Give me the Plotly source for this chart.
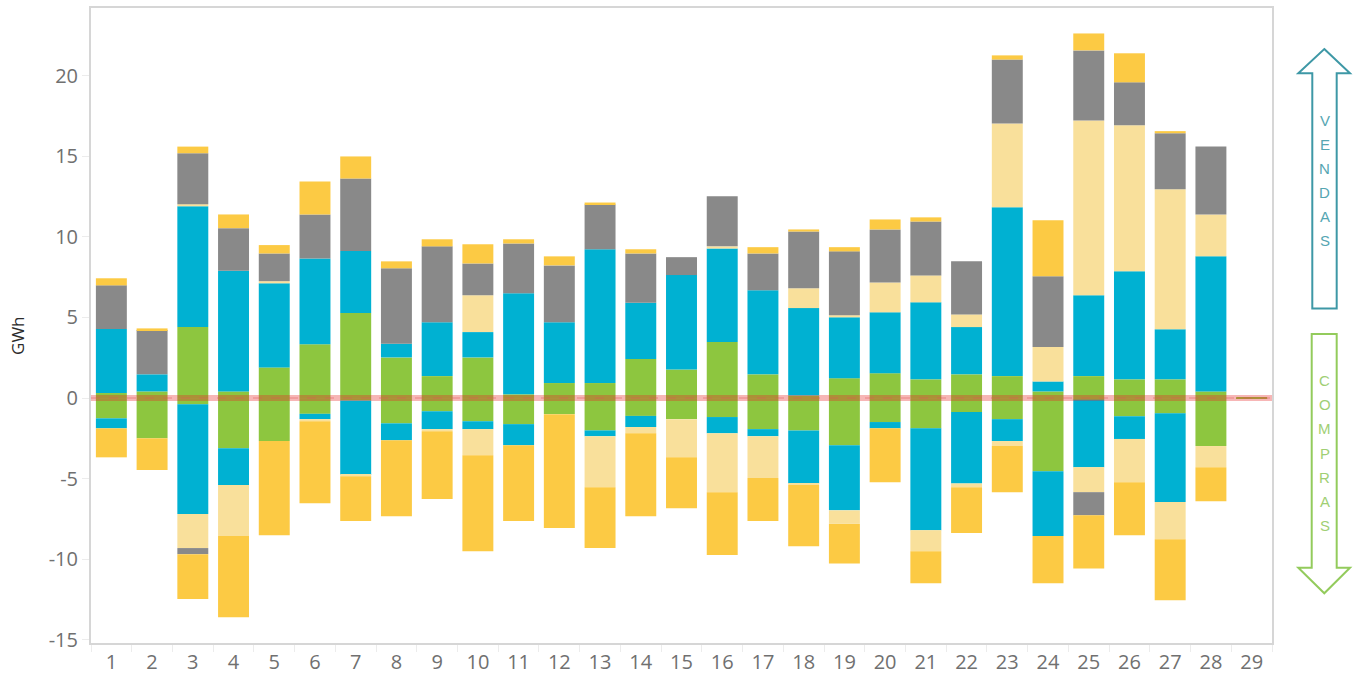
import plotly.graph_objects as go

days = [str(d) for d in range(1, 30)]

# Positive (VENDAS) values, GWh
green_pos = [0.31, 0.41, 4.40, 0.41, 1.90, 3.34, 5.27, 2.52, 1.36, 2.52, 0.23, 0.93, 0.93, 2.42,
             1.77, 3.47, 1.47, 0.15, 1.23, 1.54, 1.16, 1.47, 1.36, 0.41, 1.36, 1.16, 1.16, 0.41, 0.05]
blue_pos = [3.98, 1.06, 7.50, 7.48, 5.22, 5.32, 3.86, 0.85, 3.34, 1.57, 6.27, 3.77, 8.30, 3.49,
            5.86, 5.81, 5.21, 5.43, 3.78, 3.78, 4.78, 2.93, 10.47, 0.62, 5.02, 6.71, 3.11, 8.38, 0]
ltyel_pos = [0, 0, 0.13, 0, 0.13, 0, 0, 0, 0, 2.29, 0, 0, 0, 0,
             0, 0.13, 0, 1.23, 0.13, 1.85, 1.67, 0.79, 5.21, 2.13, 10.84, 9.05, 8.69, 2.60, 0]
grey_pos = [2.70, 2.75, 3.16, 2.65, 1.72, 2.73, 4.49, 4.68, 4.71, 1.97, 3.09, 3.53, 2.78, 3.06,
            1.11, 3.11, 2.29, 3.52, 3.96, 3.29, 3.34, 3.29, 3.96, 4.40, 4.35, 2.67, 3.47, 4.21, 0]
yellow_pos = [0.44, 0.10, 0.41, 0.85, 0.52, 2.05, 1.37, 0.43, 0.44, 1.19, 0.26, 0.56, 0.12, 0.26,
              0, 0, 0.39, 0.13, 0.26, 0.62, 0.26, 0, 0.26, 3.47, 1.05, 1.80, 0.13, 0, 0]

# Negative (COMPRAS) values, GWh
green_neg = [-1.26, -2.49, -0.39, -3.11, -2.67, -0.98, -0.15, -1.57, -0.82, -1.44, -1.62, -1.00, -2.01, -1.11,
             -1.31, -1.18, -1.93, -2.01, -2.93, -1.49, -1.88, -0.87, -1.31, -4.55, -0.10, -1.13, -0.95, -2.98, -0.05]
blue_neg = [-0.62, 0, -6.81, -2.29, 0, -0.33, -4.61, -1.05, -1.11, -0.49, -1.31, 0, -0.36, -0.69,
            0, -1.01, -0.44, -3.29, -4.04, -0.39, -6.32, -4.43, -1.36, -4.01, -4.19, -1.41, -5.50, 0, 0]
ltyel_neg = [0, 0, -2.11, -3.16, 0, -0.13, -0.10, 0, -0.13, -1.62, 0, 0, -3.16, -0.39,
             -2.37, -3.65, -2.59, -0.10, -0.84, 0, -1.31, -0.23, -0.31, 0, -1.55, -2.68, -2.32, -1.31, 0]
grey_neg = [0, 0, -0.38, 0, 0, 0, 0, 0, 0, 0, 0, 0, 0, 0,
            0, 0, 0, 0, 0, 0, 0, 0, 0, 0, -1.44, 0, 0, 0, 0]
yellow_neg = [-1.80, -1.98, -2.78, -5.04, -5.84, -5.09, -2.77, -4.71, -4.21, -5.96, -4.70, -7.07, -3.78, -5.14,
              -3.16, -3.90, -2.67, -3.80, -2.45, -3.34, -1.98, -2.85, -2.86, -2.93, -3.29, -3.29, -3.77, -2.11, 0]

y_ticks = [-15, -10, -5, 0, 5, 10, 15, 20]

C_GREEN = "#8DC63F"
C_BLUE = "#00B1D2"
C_LTYEL = "#F9E09B"
C_GREY = "#898989"
C_YEL = "#FCCA44"

series = [
    ("green", C_GREEN, green_pos, green_neg),
    ("blue", C_BLUE, blue_pos, blue_neg),
    ("ltyel", C_LTYEL, ltyel_pos, ltyel_neg),
    ("grey", C_GREY, grey_pos, grey_neg),
    ("yellow", C_YEL, yellow_pos, yellow_neg),
]

fig = go.Figure()
for name, col, pos, neg in series:
    fig.add_trace(go.Bar(x=days, y=pos, name=name, marker=dict(color=col, line=dict(width=0)),
                         showlegend=False, hoverinfo="x+y"))
    fig.add_trace(go.Bar(x=days, y=neg, name=name, marker=dict(color=col, line=dict(width=0)),
                         showlegend=False, hoverinfo="x+y"))

W, H = 1361, 681
L, R, T, B = 91, 1272, 6, 645


def px(x):
    return (x - L) / (R - L)


def py(y):
    return (B - y) / (B - T)


def path(points):
    s = "M " + " L ".join(f"{px(x):.5f},{py(y):.5f}" for x, y in points) + " Z"
    return s


shapes = []
# zero reference band
shapes.append(dict(type="line", xref="paper", yref="y", x0=0, x1=1, y0=0, y1=0,
                   line=dict(color="rgba(232,40,40,0.34)", width=6), layer="above"))
shapes.append(dict(type="line", xref="paper", yref="y", x0=0, x1=1, y0=0, y1=0,
                   line=dict(color="rgba(225,90,90,0.35)", width=1.5, dash="dash"), layer="above"))

# VENDAS arrow (up)
up = [(1324.3, 47.3), (1350, 71.7), (1336.7, 71.7), (1336.7, 308.3), (1312.3, 308.3),
      (1312.3, 71.7), (1298.3, 71.7)]
shapes.append(dict(type="path", xref="paper", yref="paper", path=path(up),
                   line=dict(color="#3E98A6", width=2), fillcolor="rgba(0,0,0,0)"))
# COMPRAS arrow (down)
down = [(1311.7, 334), (1336.7, 334), (1336.7, 569.3), (1350, 569.3), (1324.3, 595),
        (1298.3, 569.3), (1311.7, 569.3)]
shapes.append(dict(type="path", xref="paper", yref="paper", path=path(down),
                   line=dict(color="#93CB5C", width=2), fillcolor="rgba(0,0,0,0)"))

annotations = []
for i, ch in enumerate("VENDAS"):
    annotations.append(dict(x=px(1324.5), y=py(119 + i * 24.2), xref="paper", yref="paper",
                            text=ch, showarrow=False, xanchor="center", yanchor="middle",
                            font=dict(family="Arial, Liberation Sans", size=15, color="#55A6B2")))
for i, ch in enumerate("COMPRAS"):
    annotations.append(dict(x=px(1324.5), y=py(381 + i * 24.3), xref="paper", yref="paper",
                            text=ch, showarrow=False, xanchor="center", yanchor="middle",
                            font=dict(family="Arial, Liberation Sans", size=15, color="#A0CF74")))
annotations.append(dict(x=px(18), y=py(336), xref="paper", yref="paper", text="GWh",
                        showarrow=False, textangle=-90, xanchor="center", yanchor="middle",
                        font=dict(family="Open Sans", size=17, color="#2b2b2b")))

fig.update_layout(
    width=W, height=H,
    margin=dict(l=L, r=W - R, t=T, b=H - B, pad=0),
    barmode="relative",
    bargap=0.24,
    plot_bgcolor="white",
    paper_bgcolor="white",
    shapes=shapes,
    annotations=annotations,
    font=dict(family="Open Sans", color="#707070"),
)
fig.update_xaxes(
    type="category",
    range=[-0.5, 28.5],
    showline=True, linecolor="#d6d6d6", linewidth=2, mirror=True,
    ticks="outside", tickson="boundaries", ticklen=7, tickcolor="#ececec", tickwidth=1,
    tickfont=dict(family="Open Sans", size=20, color="#707070"),
    showgrid=False, zeroline=False,
)
fig.update_yaxes(
    range=[-15.2, 24.2],
    tickvals=y_ticks,
    ticktext=[str(v) for v in y_ticks],
    showline=True, linecolor="#d6d6d6", linewidth=2, mirror=True,
    ticks="outside", ticklen=7, tickcolor="#ececec", tickwidth=1,
    tickfont=dict(family="Open Sans", size=20, color="#707070"),
    showgrid=False, zeroline=False,
)

fig.write_html("out.html", post_script="document.body.style.margin='0';",
               config={"displayModeBar": False})
